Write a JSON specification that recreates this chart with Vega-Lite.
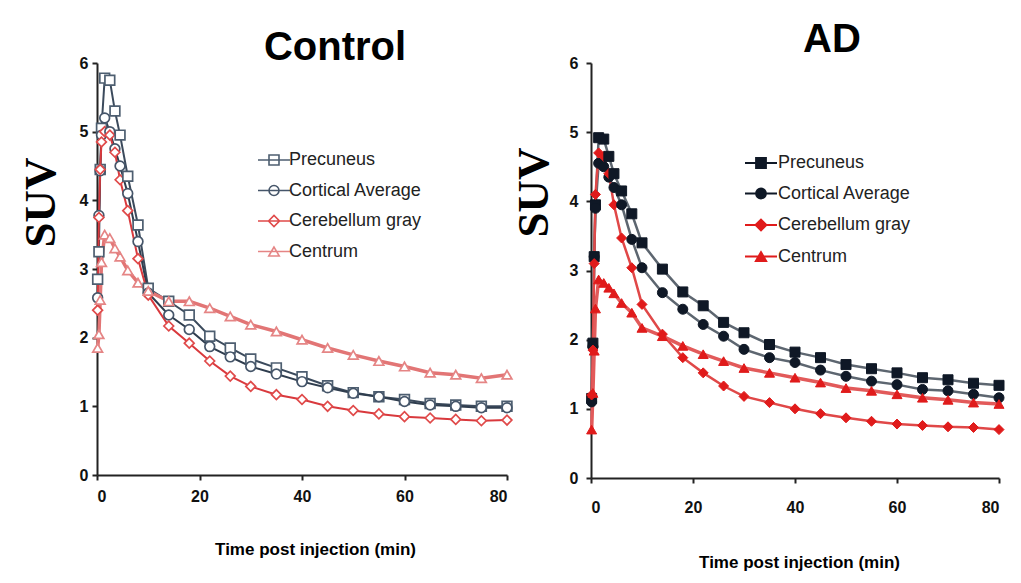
{
  "$schema": "https://vega.github.io/schema/vega-lite/v6.json",
  "background": "white",
  "padding": {"left": 18, "top": 20, "right": 5, "bottom": 5},
  "spacing": -5,
  "datasets": {
    "control": [
      {"t": 0.125, "Precuneus": 2.85, "Cortical Average": 2.58, "Cerebellum gray": 2.40, "Centrum": 1.85},
      {"t": 0.375, "Precuneus": 3.25, "Cortical Average": 3.78, "Cerebellum gray": 3.75, "Centrum": 2.05},
      {"t": 0.625, "Precuneus": 4.45, "Cortical Average": 4.43, "Cerebellum gray": 4.45, "Centrum": 2.55},
      {"t": 0.875, "Precuneus": 5.05, "Cortical Average": 4.95, "Cerebellum gray": 4.85, "Centrum": 3.10},
      {"t": 1.5, "Precuneus": 5.78, "Cortical Average": 5.20, "Cerebellum gray": 5.00, "Centrum": 3.50},
      {"t": 2.5, "Precuneus": 5.75, "Cortical Average": 5.00, "Cerebellum gray": 4.95, "Centrum": 3.45},
      {"t": 3.5, "Precuneus": 5.30, "Cortical Average": 4.75, "Cerebellum gray": 4.70, "Centrum": 3.30},
      {"t": 4.5, "Precuneus": 4.95, "Cortical Average": 4.50, "Cerebellum gray": 4.30, "Centrum": 3.18},
      {"t": 6, "Precuneus": 4.35, "Cortical Average": 4.10, "Cerebellum gray": 3.85, "Centrum": 2.98},
      {"t": 8, "Precuneus": 3.64, "Cortical Average": 3.40, "Cerebellum gray": 3.15, "Centrum": 2.80},
      {"t": 10, "Precuneus": 2.72, "Cortical Average": 2.65, "Cerebellum gray": 2.62, "Centrum": 2.68},
      {"t": 14, "Precuneus": 2.53, "Cortical Average": 2.33, "Cerebellum gray": 2.17, "Centrum": 2.53},
      {"t": 18, "Precuneus": 2.33, "Cortical Average": 2.12, "Cerebellum gray": 1.92, "Centrum": 2.53},
      {"t": 22, "Precuneus": 2.02, "Cortical Average": 1.87, "Cerebellum gray": 1.66, "Centrum": 2.43},
      {"t": 26, "Precuneus": 1.85, "Cortical Average": 1.72, "Cerebellum gray": 1.44, "Centrum": 2.31},
      {"t": 30, "Precuneus": 1.69, "Cortical Average": 1.58, "Cerebellum gray": 1.29, "Centrum": 2.19},
      {"t": 35, "Precuneus": 1.56, "Cortical Average": 1.47, "Cerebellum gray": 1.17, "Centrum": 2.09},
      {"t": 40, "Precuneus": 1.43, "Cortical Average": 1.36, "Cerebellum gray": 1.10, "Centrum": 1.97},
      {"t": 45, "Precuneus": 1.30, "Cortical Average": 1.27, "Cerebellum gray": 1.00, "Centrum": 1.85},
      {"t": 50, "Precuneus": 1.20, "Cortical Average": 1.19, "Cerebellum gray": 0.94, "Centrum": 1.75},
      {"t": 55, "Precuneus": 1.14, "Cortical Average": 1.14, "Cerebellum gray": 0.89, "Centrum": 1.66},
      {"t": 60, "Precuneus": 1.10, "Cortical Average": 1.07, "Cerebellum gray": 0.85, "Centrum": 1.58},
      {"t": 65, "Precuneus": 1.04, "Cortical Average": 1.02, "Cerebellum gray": 0.83, "Centrum": 1.49},
      {"t": 70, "Precuneus": 1.02, "Cortical Average": 1.00, "Cerebellum gray": 0.81, "Centrum": 1.46},
      {"t": 75, "Precuneus": 1.00, "Cortical Average": 0.98, "Cerebellum gray": 0.79, "Centrum": 1.41},
      {"t": 80, "Precuneus": 1.00, "Cortical Average": 0.98, "Cerebellum gray": 0.80, "Centrum": 1.46}
    ],
    "ad": [
      {"t": 0.125, "Precuneus": 1.15, "Cortical Average": 1.10, "Cerebellum gray": 1.20, "Centrum": 0.70},
      {"t": 0.375, "Precuneus": 1.95, "Cortical Average": 1.90, "Cerebellum gray": 1.85, "Centrum": 1.23},
      {"t": 0.625, "Precuneus": 3.20, "Cortical Average": 3.20, "Cerebellum gray": 3.10, "Centrum": 1.84},
      {"t": 0.875, "Precuneus": 3.95, "Cortical Average": 3.90, "Cerebellum gray": 4.10, "Centrum": 2.45},
      {"t": 1.5, "Precuneus": 4.92, "Cortical Average": 4.55, "Cerebellum gray": 4.70, "Centrum": 2.87},
      {"t": 2.5, "Precuneus": 4.90, "Cortical Average": 4.50, "Cerebellum gray": 4.65, "Centrum": 2.82},
      {"t": 3.5, "Precuneus": 4.65, "Cortical Average": 4.35, "Cerebellum gray": 4.40, "Centrum": 2.75},
      {"t": 4.5, "Precuneus": 4.40, "Cortical Average": 4.20, "Cerebellum gray": 3.95, "Centrum": 2.67},
      {"t": 6, "Precuneus": 4.15, "Cortical Average": 3.95, "Cerebellum gray": 3.47, "Centrum": 2.53},
      {"t": 8, "Precuneus": 3.82, "Cortical Average": 3.45, "Cerebellum gray": 3.04, "Centrum": 2.39},
      {"t": 10, "Precuneus": 3.40, "Cortical Average": 3.04, "Cerebellum gray": 2.51, "Centrum": 2.17},
      {"t": 14, "Precuneus": 3.02, "Cortical Average": 2.68, "Cerebellum gray": 2.08, "Centrum": 2.05},
      {"t": 18, "Precuneus": 2.69, "Cortical Average": 2.44, "Cerebellum gray": 1.74, "Centrum": 1.91},
      {"t": 22, "Precuneus": 2.49, "Cortical Average": 2.22, "Cerebellum gray": 1.52, "Centrum": 1.79},
      {"t": 26, "Precuneus": 2.25, "Cortical Average": 2.05, "Cerebellum gray": 1.33, "Centrum": 1.69},
      {"t": 30, "Precuneus": 2.10, "Cortical Average": 1.86, "Cerebellum gray": 1.18, "Centrum": 1.59},
      {"t": 35, "Precuneus": 1.93, "Cortical Average": 1.74, "Cerebellum gray": 1.09, "Centrum": 1.52},
      {"t": 40, "Precuneus": 1.82, "Cortical Average": 1.67, "Cerebellum gray": 1.00, "Centrum": 1.45},
      {"t": 45, "Precuneus": 1.74, "Cortical Average": 1.56, "Cerebellum gray": 0.93, "Centrum": 1.38},
      {"t": 50, "Precuneus": 1.64, "Cortical Average": 1.47, "Cerebellum gray": 0.87, "Centrum": 1.30},
      {"t": 55, "Precuneus": 1.58, "Cortical Average": 1.40, "Cerebellum gray": 0.82, "Centrum": 1.26},
      {"t": 60, "Precuneus": 1.52, "Cortical Average": 1.35, "Cerebellum gray": 0.78, "Centrum": 1.21},
      {"t": 65, "Precuneus": 1.45, "Cortical Average": 1.28, "Cerebellum gray": 0.76, "Centrum": 1.16},
      {"t": 70, "Precuneus": 1.42, "Cortical Average": 1.26, "Cerebellum gray": 0.74, "Centrum": 1.13},
      {"t": 75, "Precuneus": 1.37, "Cortical Average": 1.21, "Cerebellum gray": 0.73, "Centrum": 1.09},
      {"t": 80, "Precuneus": 1.34, "Cortical Average": 1.16, "Cerebellum gray": 0.70, "Centrum": 1.07}
    ]
  },
  "hconcat": [
    {
      "title": {"text": "Control", "font": "Liberation Sans", "fontSize": 40, "fontWeight": "bold", "color": "#000", "anchor": "middle", "dx": 33, "offset": -13},
      "width": 410,
      "height": 412,
      "data": {"name": "control"},
      "transform": [{"fold": ["Precuneus", "Cortical Average", "Cerebellum gray", "Centrum"], "as": ["series", "suv"]}],
      "encoding": {
        "x": {"field": "t", "type": "quantitative", "scale": {"domain": [0, 80], "nice": false},
              "axis": {"values": [0, 20, 40, 60, 80], "labelPadding": 8, "title": "Time post injection (min)", "titleFont": "Liberation Sans", "titleFontWeight": "bold", "titleFontSize": 17, "titlePadding": 37, "titleX": 218}},
        "y": {"field": "suv", "type": "quantitative", "scale": {"domain": [0, 6], "nice": false},
              "axis": {"values": [0, 1, 2, 3, 4, 5, 6], "title": "SUV", "titleFont": "Liberation Serif", "titleFontWeight": "bold", "titleFontSize": 45, "titleX": -43, "titleY": 139, "titleBaseline": "alphabetic", "labelPadding": 4}}
      },
      "layer": [
        {
          "mark": {"type": "line"},
          "encoding": {
            "color": {"field": "series", "type": "nominal", "legend": null,
                      "scale": {"domain": ["Precuneus", "Cortical Average", "Cerebellum gray", "Centrum"], "range": ["#3b4a5c", "#2f3d4e", "#d9393d", "#e27575"]}},
            "strokeWidth": {"condition": {"test": "datum.series === 'Centrum'", "value": 3.5}, "value": 2}
          }
        },
        {
          "mark": {"type": "point", "filled": true, "opacity": 1, "size": 95, "strokeWidth": 1.7},
          "encoding": {
            "shape": {"field": "series", "type": "nominal", "legend": null,
                      "scale": {"domain": ["Precuneus", "Cortical Average", "Cerebellum gray", "Centrum"], "range": ["square", "circle", "diamond", "triangle-up"]}},
            "stroke": {"field": "series", "type": "nominal", "legend": null,
                       "scale": {"domain": ["Precuneus", "Cortical Average", "Cerebellum gray", "Centrum"], "range": ["#4d5e70", "#46566a", "#e04a4a", "#e58585"]}},
            "fill": {"field": "series", "type": "nominal", "legend": null,
                     "scale": {"domain": ["Precuneus", "Cortical Average", "Cerebellum gray", "Centrum"], "range": ["#ffffff", "#ffffff", "#ffffff", "#ffffff"]}}
          }
        },
        {
          "transform": [{"filter": "datum.t < 0"}],
          "mark": {"type": "point", "filled": true, "opacity": 1, "strokeWidth": 1.6},
          "encoding": {
            "shape": {"field": "series", "type": "nominal",
                      "scale": {"domain": ["Precuneus", "Cortical Average", "Cerebellum gray", "Centrum"],
                                "range": ["M-3.2,0H3.2M-1,-1H1V1H-1Z", "M-3.2,0H3.2M-1,0A1,1,0,1,0,1,0A1,1,0,1,0,-1,0Z", "M-3.2,0H3.2M-1.1,0L0,-1.1L1.1,0L0,1.1Z", "M-3.2,0H3.2M0,-0.9L-1.05,0.9H1.05Z"]},
                      "legend": {"orient": "none", "legendX": 168, "legendY": 88, "title": null, "padding": 0, "symbolSize": 100, "symbolStrokeWidth": 1.6, "labelFont": "Liberation Sans", "labelFontSize": 18, "labelColor": "#222", "labelOffset": 6, "rowPadding": 12.5}},
            "stroke": {"field": "series", "type": "nominal",
                       "scale": {"domain": ["Precuneus", "Cortical Average", "Cerebellum gray", "Centrum"], "range": ["#4d5e70", "#46566a", "#e04a4a", "#e58585"]},
                       "legend": {"orient": "none", "legendX": 168, "legendY": 88, "title": null, "padding": 0, "symbolSize": 100, "symbolStrokeWidth": 1.6, "labelFont": "Liberation Sans", "labelFontSize": 18, "labelColor": "#222", "labelOffset": 6, "rowPadding": 12.5}},
            "fill": {"field": "series", "type": "nominal",
                     "scale": {"domain": ["Precuneus", "Cortical Average", "Cerebellum gray", "Centrum"], "range": ["#ffffff", "#ffffff", "#ffffff", "#ffffff"]},
                     "legend": {"orient": "none", "legendX": 168, "legendY": 88, "title": null, "padding": 0, "symbolSize": 100, "symbolStrokeWidth": 1.6, "labelFont": "Liberation Sans", "labelFontSize": 18, "labelColor": "#222", "labelOffset": 6, "rowPadding": 12.5}}
          }
        }
      ],
      "resolve": {"scale": {"color": "independent", "shape": "independent", "stroke": "independent", "fill": "independent"}}
    },
    {
      "title": {"text": "AD", "font": "Liberation Sans", "fontSize": 40, "fontWeight": "bold", "color": "#000", "anchor": "middle", "dx": 37, "offset": -5},
      "width": 408,
      "height": 415,
      "data": {"name": "ad"},
      "transform": [{"fold": ["Precuneus", "Cortical Average", "Cerebellum gray", "Centrum"], "as": ["series", "suv"]}],
      "encoding": {
        "x": {"field": "t", "type": "quantitative", "scale": {"domain": [0, 80], "nice": false},
              "axis": {"values": [0, 20, 40, 60, 80], "labelPadding": 16, "title": "Time post injection (min)", "titleFont": "Liberation Sans", "titleFontWeight": "bold", "titleFontSize": 17, "titlePadding": 39, "titleX": 208}},
        "y": {"field": "suv", "type": "quantitative", "scale": {"domain": [0, 6], "nice": false},
              "axis": {"values": [0, 1, 2, 3, 4, 5, 6], "title": "SUV", "titleFont": "Liberation Serif", "titleFontWeight": "bold", "titleFontSize": 45, "titleX": -44, "titleY": 129, "titleBaseline": "alphabetic", "labelPadding": 8}}
      },
      "layer": [
        {
          "mark": {"type": "line"},
          "encoding": {
            "color": {"field": "series", "type": "nominal", "legend": null,
                      "scale": {"domain": ["Precuneus", "Cortical Average", "Cerebellum gray", "Centrum"], "range": ["#5d6670", "#5d6670", "#e04848", "#e25a5a"]}},
            "strokeWidth": {"condition": {"test": "datum.series === 'Centrum'", "value": 3.5}, "value": 2.5}
          }
        },
        {
          "mark": {"type": "point", "filled": true, "opacity": 1, "size": 100, "strokeWidth": 1},
          "encoding": {
            "shape": {"field": "series", "type": "nominal", "legend": null,
                      "scale": {"domain": ["Precuneus", "Cortical Average", "Cerebellum gray", "Centrum"], "range": ["square", "circle", "diamond", "triangle-up"]}},
            "stroke": {"field": "series", "type": "nominal", "legend": null,
                       "scale": {"domain": ["Precuneus", "Cortical Average", "Cerebellum gray", "Centrum"], "range": ["#0f1826", "#0f1826", "#e01b1b", "#e01b1b"]}},
            "fill": {"field": "series", "type": "nominal", "legend": null,
                     "scale": {"domain": ["Precuneus", "Cortical Average", "Cerebellum gray", "Centrum"], "range": ["#0f1826", "#0f1826", "#e01b1b", "#e01b1b"]}}
          }
        },
        {
          "transform": [{"filter": "datum.t < 0"}],
          "mark": {"type": "point", "filled": true, "opacity": 1, "strokeWidth": 1.8},
          "encoding": {
            "shape": {"field": "series", "type": "nominal",
                      "scale": {"domain": ["Precuneus", "Cortical Average", "Cerebellum gray", "Centrum"],
                                "range": ["M-3.2,0H3.2M-1,-1H1V1H-1Z", "M-3.2,0H3.2M-1,0A1,1,0,1,0,1,0A1,1,0,1,0,-1,0Z", "M-3.2,0H3.2M-1.1,0L0,-1.1L1.1,0L0,1.1Z", "M-3.2,0H3.2M0,-0.9L-1.05,0.9H1.05Z"]},
                      "legend": {"orient": "none", "legendX": 161, "legendY": 91, "title": null, "padding": 0, "symbolSize": 100, "symbolStrokeWidth": 1.8, "labelFont": "Liberation Sans", "labelFontSize": 18, "labelColor": "#222", "labelOffset": 8, "rowPadding": 12.5}},
            "stroke": {"field": "series", "type": "nominal",
                       "scale": {"domain": ["Precuneus", "Cortical Average", "Cerebellum gray", "Centrum"], "range": ["#0f1826", "#0f1826", "#e01b1b", "#e01b1b"]},
                       "legend": {"orient": "none", "legendX": 161, "legendY": 91, "title": null, "padding": 0, "symbolSize": 100, "symbolStrokeWidth": 1.8, "labelFont": "Liberation Sans", "labelFontSize": 18, "labelColor": "#222", "labelOffset": 8, "rowPadding": 12.5}},
            "fill": {"field": "series", "type": "nominal",
                     "scale": {"domain": ["Precuneus", "Cortical Average", "Cerebellum gray", "Centrum"], "range": ["#0f1826", "#0f1826", "#e01b1b", "#e01b1b"]},
                     "legend": {"orient": "none", "legendX": 161, "legendY": 91, "title": null, "padding": 0, "symbolSize": 100, "symbolStrokeWidth": 1.8, "labelFont": "Liberation Sans", "labelFontSize": 18, "labelColor": "#222", "labelOffset": 8, "rowPadding": 12.5}}
          }
        }
      ],
      "resolve": {"scale": {"color": "independent", "shape": "independent", "stroke": "independent", "fill": "independent"}}
    }
  ],
  "resolve": {"scale": {"color": "independent", "shape": "independent", "stroke": "independent", "fill": "independent", "x": "independent", "y": "independent"}, "legend": {"shape": "independent", "stroke": "independent", "fill": "independent"}},
  "config": {
    "view": {"stroke": null},
    "axis": {"grid": false, "domainColor": "#222", "domainWidth": 2, "tickColor": "#222", "tickWidth": 2, "tickSize": 5,
             "labelFont": "Liberation Sans", "labelFontWeight": "bold", "labelFontSize": 16, "labelColor": "#111", "titleColor": "#000"}
  }
}
